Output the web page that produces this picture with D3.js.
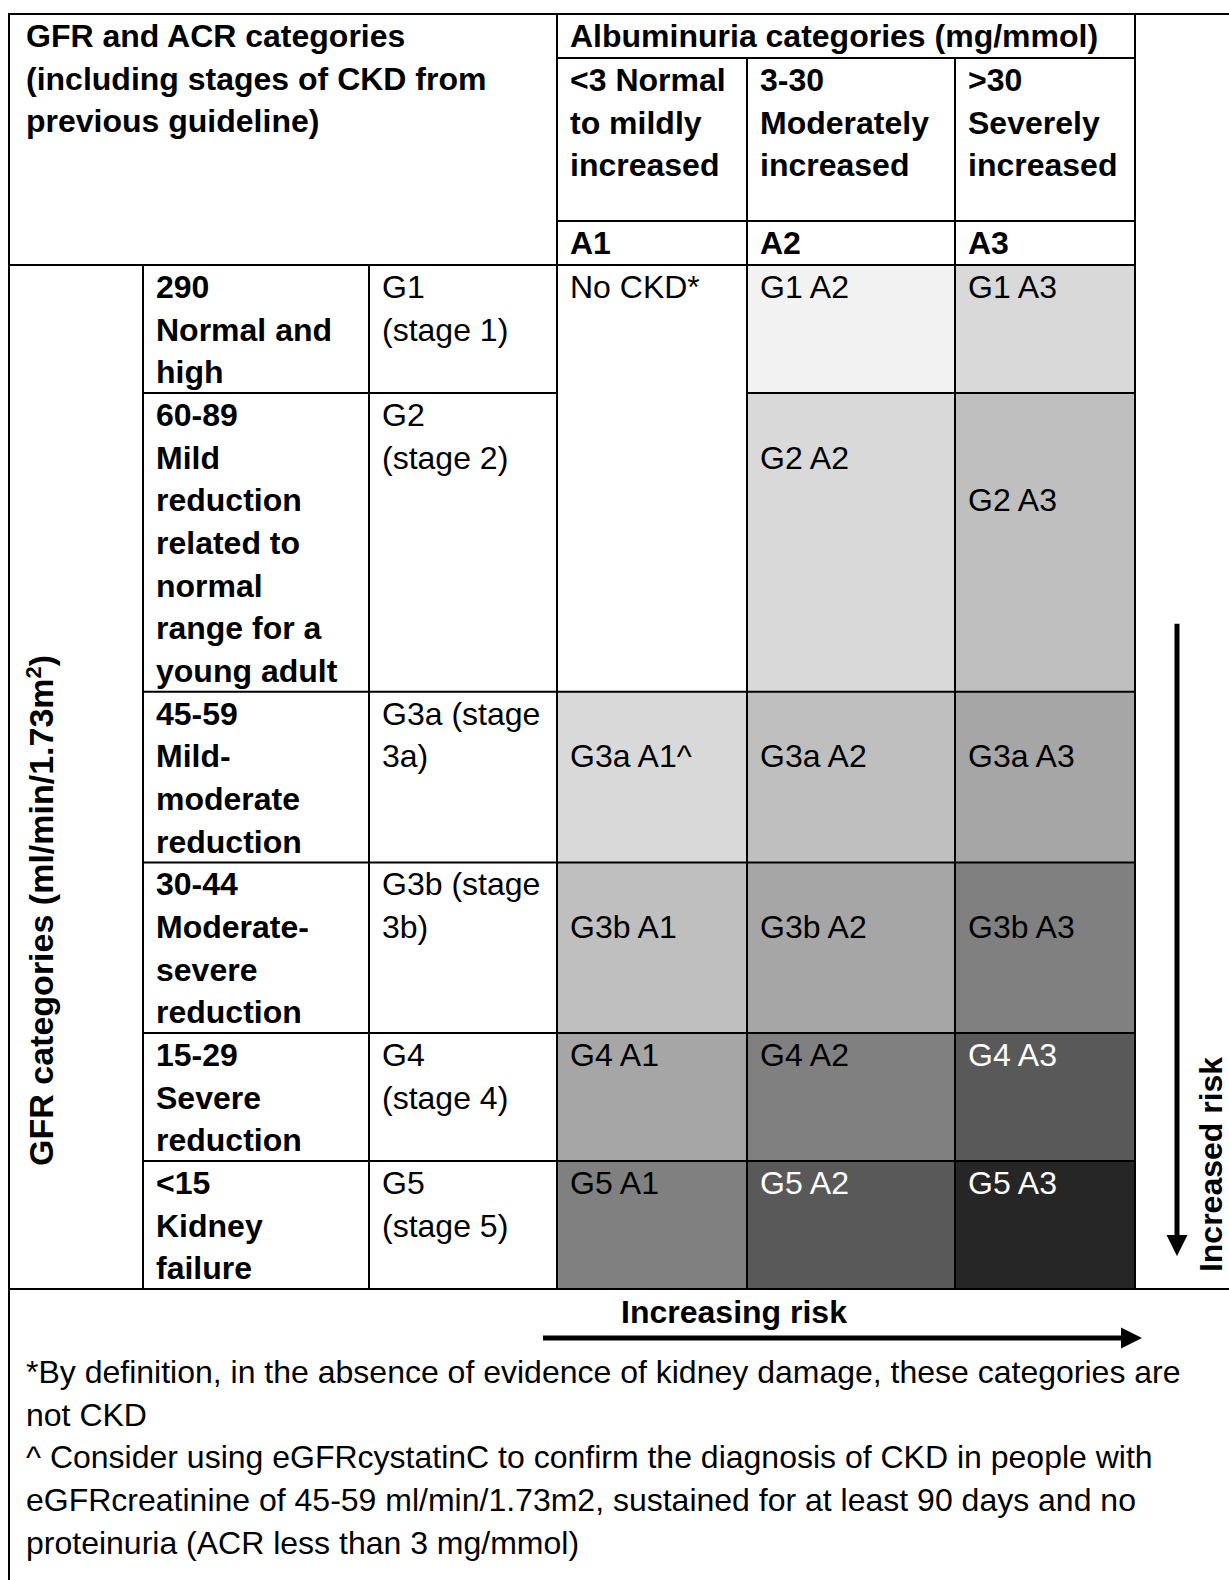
<!DOCTYPE html>
<html>
<head>
<meta charset="utf-8">
<script src="https://cdn.jsdelivr.net/npm/d3@7"></script>
<style>
  html, body { margin: 0; padding: 0; background: #fff; }
  svg { display: block; }
</style>
</head>
<body>
<div id="chart"></div>
<script>
// ---------------- DATA ----------------
const leftHeaderLines = ["GFR and ACR categories", "(including stages of CKD from", "previous guideline)"];
const albuminuriaTitle = "Albuminuria categories (mg/mmol)";
const albuminuriaDescriptions = [
  ["<3 Normal", "to mildly", "increased"],
  ["3-30", "Moderately", "increased"],
  [">30", "Severely", "increased"]
];
const albuminuriaCodes = ["A1", "A2", "A3"];
const gfrCodes = ["G1", "G2", "G3a", "G3b", "G4", "G5"];
const gfrDescriptions = [
  ["290", "Normal and", "high"],
  ["60-89", "Mild", "reduction", "related to", "normal", "range for a", "young adult"],
  ["45-59", "Mild-", "moderate", "reduction"],
  ["30-44", "Moderate-", "severe", "reduction"],
  ["15-29", "Severe", "reduction"],
  ["<15", "Kidney", "failure"]
];
const gfrStages = [
  ["G1", "(stage 1)"],
  ["G2", "(stage 2)"],
  ["G3a (stage", "3a)"],
  ["G3b (stage", "3b)"],
  ["G4", "(stage 4)"],
  ["G5", "(stage 5)"]
];
// risk grade per GFR row x albuminuria column (0 = white)
const riskGrades = [
  [0, 1, 2],
  [0, 2, 3],
  [2, 3, 4],
  [3, 4, 5],
  [4, 5, 6],
  [5, 6, 7]
];
const cellLabels = [
  ["No CKD*", "G1 A2", "G1 A3"],
  [null, "G2 A2", "G2 A3"],
  ["G3a A1^", "G3a A2", "G3a A3"],
  ["G3b A1", "G3b A2", "G3b A3"],
  ["G4 A1", "G4 A2", "G4 A3"],
  ["G5 A1", "G5 A2", "G5 A3"]
];
const gradeColors = ["#ffffff", "#f2f2f2", "#d9d9d9", "#bfbfbf", "#a6a6a6", "#808080", "#595959", "#262626"];
const gfrAxisTitle = "GFR categories (ml/min/1.73m";
const gfrAxisSup = "2";
const rightArrowLabel = "Increased risk";
const bottomArrowLabel = "Increasing risk";
const footnotes = [
  "*By definition, in the absence of evidence of kidney damage, these categories are",
  "not CKD",
  "^ Consider using eGFRcystatinC to confirm the diagnosis of CKD in people with",
  "eGFRcreatinine of 45-59 ml/min/1.73m2, sustained for at least 90 days and no",
  "proteinuria (ACR less than 3 mg/mmol)"
];

// ---------------- LAYOUT ----------------
const W = 1229, H = 1580;
const FONT = "'Liberation Sans', Arial, Helvetica, sans-serif";
const FS = 32;
const LH = 42.67;
const BASE = 33;   // first baseline offset inside a cell
const PADX = 13;
const STROKE = 2;
// column edges: [frame left, gfr desc, stage, A1, A2, A3, right area, right edge]
const colX = [9, 143, 369, 557, 747, 955, 1135, W];
const topY = 14;
const headerRowH = [44, 163, 44];
// which line of the row each cell label sits on
const labelLineIdx = [
  [0, 0, 0],
  [0, 1, 2],
  [1, 1, 1],
  [1, 1, 1],
  [0, 0, 0],
  [0, 0, 0]
];

const headerY = [topY];
headerRowH.forEach(h => headerY.push(headerY[headerY.length - 1] + h));
const bodyTop = headerY[3];
const rowY = [bodyTop];
gfrDescriptions.forEach(lines => rowY.push(rowY[rowY.length - 1] + lines.length * LH));
const bodyBottom = rowY[rowY.length - 1];

const colorScale = d3.scaleOrdinal().domain(d3.range(gradeColors.length)).range(gradeColors);
const aX = d3.scaleOrdinal().domain([0, 1, 2]).range([colX[3], colX[4], colX[5]]);
const aW = d3.scaleOrdinal().domain([0, 1, 2]).range([colX[4] - colX[3], colX[5] - colX[4], colX[6] - colX[5]]);

const svg = d3.select("#chart").append("svg")
  .attr("width", W).attr("height", H)
  .attr("viewBox", `0 0 ${W} ${H}`)
  .style("font-family", FONT)
  .style("font-size", FS + "px");

svg.append("rect").attr("width", W).attr("height", H).attr("fill", "#fff");

// ---------------- CELL FILLS ----------------
const cells = [];
riskGrades.forEach((row, r) => row.forEach((g, c) => {
  if (cellLabels[r][c] === null && r > 0) return; // merged into row above
  let y0 = rowY[r], y1 = rowY[r + 1];
  if (r + 1 < riskGrades.length && cellLabels[r + 1][c] === null) y1 = rowY[r + 2];
  cells.push({ r, c, g, y0, y1, label: cellLabels[r][c] });
}));

svg.append("g").selectAll("rect").data(cells).join("rect")
  .attr("x", d => aX(d.c))
  .attr("y", d => d.y0)
  .attr("width", d => aW(d.c))
  .attr("height", d => d.y1 - d.y0)
  .attr("fill", d => colorScale(d.g));

svg.append("g").selectAll("text").data(cells).join("text")
  .attr("x", d => aX(d.c) + PADX)
  .attr("y", d => d.y0 + BASE + labelLineIdx[d.r][d.c] * LH)
  .attr("fill", d => d.g >= 6 ? "#fff" : "#000")
  .text(d => d.label);

// ---------------- GRID LINES ----------------
const lines = [];
const hl = (y, x1, x2) => lines.push({ x1, x2, y1: y, y2: y });
const vl = (x, y1, y2) => lines.push({ x1: x, x2: x, y1, y2 });
hl(topY, colX[0], W);
vl(colX[0], topY, H);
vl(colX[3], topY, bodyBottom);
vl(colX[6], topY, bodyBottom);
hl(headerY[1], colX[3], colX[6]);
hl(headerY[2], colX[3], colX[6]);
vl(colX[4], headerY[1], bodyBottom);
vl(colX[5], headerY[1], bodyBottom);
hl(bodyTop, colX[0], colX[6]);
vl(colX[1], bodyTop, bodyBottom);
vl(colX[2], bodyTop, bodyBottom);
for (let r = 1; r < gfrCodes.length; r++) {
  hl(rowY[r], colX[1], colX[3]);
  for (let c = 0; c < 3; c++) {
    if (cellLabels[r][c] !== null) hl(rowY[r], aX(c), aX(c) + aW(c));
  }
}
hl(bodyBottom, colX[0], W);

svg.append("g").selectAll("line").data(lines).join("line")
  .attr("x1", d => d.x1 - (d.y1 === d.y2 ? STROKE / 2 : 0))
  .attr("x2", d => d.x2 + (d.y1 === d.y2 ? STROKE / 2 : 0))
  .attr("y1", d => d.y1).attr("y2", d => d.y2)
  .attr("stroke", "#000").attr("stroke-width", STROKE);

// ---------------- HEADER TEXT ----------------
const multi = (g, linesArr, x, y, bold) => {
  const t = g.append("text").attr("font-weight", bold ? "bold" : "normal");
  linesArr.forEach((s, i) => t.append("tspan").attr("x", x).attr("y", y + i * LH).text(s));
  return t;
};
const hg = svg.append("g");
multi(hg, leftHeaderLines, colX[0] + 17, topY + BASE, true);
hg.append("text").attr("font-weight", "bold")
  .attr("x", colX[3] + PADX).attr("y", headerY[0] + BASE).text(albuminuriaTitle);
albuminuriaDescriptions.forEach((d, i) => multi(hg, d, aX(i) + PADX, headerY[1] + BASE, true));
albuminuriaCodes.forEach((d, i) => hg.append("text").attr("font-weight", "bold")
  .attr("x", aX(i) + PADX).attr("y", headerY[2] + BASE).text(d));

// ---------------- GFR ROW TEXT ----------------
const rg = svg.append("g");
gfrDescriptions.forEach((d, r) => multi(rg, d, colX[1] + PADX, rowY[r] + BASE, true));
gfrStages.forEach((d, r) => multi(rg, d, colX[2] + PADX, rowY[r] + BASE, false));

// vertical axis title
const vt = svg.append("text")
  .attr("font-weight", "bold")
  .attr("font-size", 34)
  .attr("text-anchor", "middle")
  .attr("transform", `translate(53, ${(rowY[2] + rowY[5]) / 2 - 16}) rotate(-90)`);
vt.append("tspan").text(gfrAxisTitle);
vt.append("tspan").attr("dy", -12).attr("font-size", 22).text(gfrAxisSup);
vt.append("tspan").attr("dy", 12).text(")");

// ---------------- ARROWS ----------------
const defs = svg.append("defs");
defs.append("marker").attr("id", "head")
  .attr("viewBox", "0 0 10 10").attr("refX", 0).attr("refY", 5)
  .attr("markerWidth", 4.2).attr("markerHeight", 4.4)
  .attr("markerUnits", "strokeWidth").attr("orient", "auto")
  .append("path").attr("d", "M0,0 L10,5 L0,10 Z").attr("fill", "#000");

const arrowX = (colX[6] + W) / 2 - 5;
svg.append("line")
  .attr("x1", arrowX).attr("x2", arrowX)
  .attr("y1", rowY[2] - 68).attr("y2", bodyBottom - 54)
  .attr("stroke", "#000").attr("stroke-width", 5)
  .attr("marker-end", "url(#head)");

svg.append("text").attr("font-weight", "bold")
  .attr("transform", `translate(${W - 7}, ${bodyBottom - 17}) rotate(-90)`)
  .text(rightArrowLabel);

const arrowY = bodyBottom + 49;
svg.append("line")
  .attr("x1", colX[3] - 14).attr("x2", colX[6] - 14)
  .attr("y1", arrowY).attr("y2", arrowY)
  .attr("stroke", "#000").attr("stroke-width", 5)
  .attr("marker-end", "url(#head)");

svg.append("text").attr("font-weight", "bold").attr("text-anchor", "middle")
  .attr("x", (colX[3] + colX[6]) / 2 - 112).attr("y", bodyBottom + 34)
  .text(bottomArrowLabel);

// ---------------- FOOTNOTES ----------------
multi(svg.append("g"), footnotes, colX[0] + 17, bodyBottom + 94, false);
</script>
</body>
</html>
